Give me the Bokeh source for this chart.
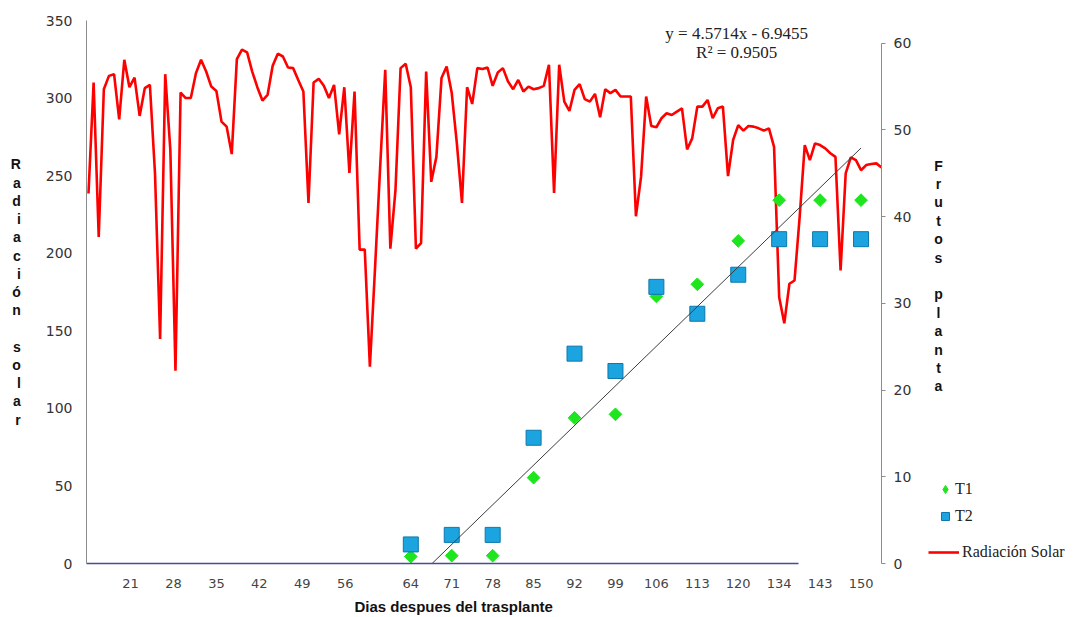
import numpy as np
from bokeh.plotting import figure
from bokeh.layouts import row
from bokeh.models import (Range1d, LinearAxis, FixedTicker, Legend, LegendItem,
                          Label, Title, ColumnDataSource)
from bokeh.embed import file_html
from bokeh.resources import INLINE

# Daily solar radiation over the crop cycle (left axis)
rad_solar = [238.5, 310, 210.4, 305.7, 314.3, 315.4, 286.3, 324.7, 307, 313.2,
             288.5, 306.4, 308.5, 251.4, 144.7, 315.4, 266.5, 124.2, 303.5, 300,
             300, 316, 324.7, 317.1, 307.4, 304.6, 284.8, 281.6, 263.9, 325.1,
             331.2, 329.4, 317.1, 307, 298.4, 302, 320.8, 328.6, 326.8, 319.7,
             319.3, 311.7, 304.2, 232.4, 310, 312.4, 307.9, 300, 308.5, 276.6,
             307, 251.8, 304.2, 202.3, 202.3, 126.8, 190, 255, 318.2, 202.9,
             240.6, 319.3, 322.1, 307, 202.9, 206.5, 317.1, 246, 262.1, 312.9,
             320.4, 303.2, 270.8, 232.4, 307, 296.2, 319.3, 318.7, 319.7, 307.9,
             316.5, 319.3, 310.7, 305.7, 311.7, 304.2, 307.4, 305.7, 306.4, 307.9,
             321.5, 238.9, 321.5, 297.7, 291.7, 305.3, 309, 299.3, 297.7, 302.7,
             287.6, 305.7, 303.2, 305.3, 301, 301, 301, 223.8, 249.2, 301,
             282, 281.2, 287, 290.2, 289.1, 291.3, 293.4, 266.9, 274, 294.5,
             294.5, 298.8, 287, 293.4, 294.5, 249.7, 273, 282.6, 279, 282,
             281.6, 280.5, 279, 280.5, 268.6, 171.6, 154.8, 180.3, 182.4, 223.3,
             269.7, 260, 270.8, 269.7, 267.6, 264.4, 262.1, 188.9, 251.4, 261.8,
             260, 253.5, 256.8, 257.5, 257.9, 255.3]

# Day labels before fruiting, and the sampling days with fruit counts
early_days = ["21", "28", "35", "42", "49", "56"]
sample_days = ["64", "71", "78", "85", "92", "99", "106", "113", "120", "134", "143", "150"]

# Fruits per plant (right axis)
frutos_t1 = [0.8, 0.9, 0.9, 9.9, 16.8, 17.2, 30.8, 32.2, 37.2, 41.9, 41.9, 41.9]
frutos_t2 = [2.2, 3.3, 3.3, 14.5, 24.2, 22.2, 31.9, 28.8, 33.3, 37.4, 37.4, 37.4]

# Linear trend fitted on T1 against the sample number
trend_slope = 4.5714
trend_intercept = -6.9455
trend_r2 = 0.9505

# styles
RED = "#ff0000"
GREEN = "#1ee61e"
BLUE_FILL, BLUE_LINE = "#1ba4df", "#0c78ad"
TICK_FONT = "DejaVu Sans"
SERIF = "Liberation Serif"
FRAME_H = 543

# ---- slots along the daily x axis ----
n_days = len(rad_solar)
day_x = np.arange(n_days)
early_slots = [round(8.2 + 8.4 * i, 1) for i in range(len(early_days))]
sample_slots = [63 + 8 * j for j in range(len(sample_days))]

p = figure(frame_width=795, frame_height=FRAME_H,
           x_range=Range1d(-0.39, n_days - 1), y_range=Range1d(0, 350),
           x_axis_type=None, y_axis_type=None,
           min_border_left=86, min_border_right=32, min_border_top=20, min_border_bottom=54,
           output_backend="svg", toolbar_location=None)
p.outline_line_color = None
p.background_fill_color = "white"
p.border_fill_color = "white"
p.extra_y_ranges = {"frutos": Range1d(0, 60 * FRAME_H / 520.3)}

# left axis: solar radiation
left = LinearAxis(ticker=FixedTicker(ticks=list(range(0, 351, 50))))
left.axis_line_color = "#8c8c8c"
left.major_tick_out = 0
left.major_tick_in = 0
left.minor_tick_out = 0
left.minor_tick_in = 0
left.major_label_standoff = 14
left.major_label_text_font = TICK_FONT
left.major_label_text_font_size = "14px"
left.major_label_text_color = "#333333"
left.axis_label = "\n".join(list("Radiación")) + "\n\n" + "\n".join(list("solar"))
left.axis_label_orientation = "horizontal"
left.axis_label_text_font = "Liberation Sans"
left.axis_label_text_font_style = "bold"
left.axis_label_text_font_size = "14px"
left.axis_label_text_line_height = 1.14
left.axis_label_text_color = "#111111"
left.axis_label_standoff = 22
p.add_layout(left, "left")

# right axis: fruits per plant (its title sits in the side panel)
right = LinearAxis(y_range_name="frutos", ticker=FixedTicker(ticks=list(range(0, 61, 10))),
                   bounds=(0, 60))
right.axis_line_color = "#8c8c8c"
right.major_tick_line_color = "#8c8c8c"
right.major_tick_out = 4
right.major_tick_in = 0
right.minor_tick_out = 0
right.minor_tick_in = 0
right.major_label_standoff = 8
right.major_label_text_font = TICK_FONT
right.major_label_text_font_size = "14px"
right.major_label_text_color = "#333333"
p.add_layout(right, "right")

# baseline of the category axis
base = LinearAxis(ticker=FixedTicker(ticks=[]), bounds=(-1.95, 138.8))
base.axis_line_color = "#4a4a96"
base.axis_line_width = 1.3
base.major_tick_out = 0
base.major_tick_in = 0
base.minor_tick_out = 0
base.minor_tick_in = 0
base.major_label_standoff = 0
p.add_layout(base, "below")

# day labels
tick_pos = early_slots + sample_slots
tick_lab = early_days + sample_days
xax = LinearAxis(ticker=FixedTicker(ticks=tick_pos),
                 major_label_overrides={t: s for t, s in zip(tick_pos, tick_lab)})
xax.axis_line_color = None
xax.major_tick_out = 0
xax.major_tick_in = 0
xax.minor_tick_out = 0
xax.minor_tick_in = 0
xax.major_label_standoff = 15
xax.major_label_text_font = TICK_FONT
xax.major_label_text_font_size = "13px"
xax.major_label_text_color = "#444444"
p.add_layout(xax, "below")

p.add_layout(Title(text="Dias despues del trasplante", align="left", offset=268,
                   text_font="Liberation Sans", text_font_style="bold",
                   text_font_size="15px", text_color="#111111", standoff=10), "below")

# series
src_rad = ColumnDataSource(dict(x=day_x, y=rad_solar))
src_f = ColumnDataSource(dict(x=sample_slots, t1=frutos_t1, t2=frutos_t2))

rad_style = dict(line_color=RED, line_width=2.6)
t1_style = dict(marker="square", angle=np.pi / 4, size=9, fill_color=GREEN, line_color=GREEN)
t2_style = dict(marker="square", size=15, fill_color=BLUE_FILL, line_color=BLUE_LINE,
                line_width=1)

p.line("x", "y", source=src_rad, **rad_style)
p.scatter("x", "t1", source=src_f, y_range_name="frutos", **t1_style)
p.scatter("x", "t2", source=src_f, y_range_name="frutos", **t2_style)

# trend line, clipped at zero fruits
k_start = -trend_intercept / trend_slope
k = np.array([k_start, len(sample_days)])
p.line(63 + 8 * (k - 1), trend_slope * k + trend_intercept, y_range_name="frutos",
       line_color="#3c3c3c", line_width=1)

# equation
for txt, yv in [(f"y = {trend_slope}x - {abs(trend_intercept)}", 341.6),
                (f"R\u00b2 = {trend_r2}", 329.4)]:
    p.add_layout(Label(x=126.7, y=yv, text=txt, text_align="center", text_baseline="middle",
                       text_font=SERIF, text_font_size="17px", text_color="#222222"))

# ---- side panel: right-axis title and legend (frame shares the main frame's height) ----
side_w = 165
s = figure(width=side_w, height=617, x_range=Range1d(0, side_w), y_range=Range1d(0, FRAME_H),
           x_axis_type=None, y_axis_type=None, min_border=0,
           output_backend="svg", toolbar_location=None)
s.outline_line_color = None
s.background_fill_color = "white"
s.border_fill_color = "white"
s.xgrid.visible = False
s.ygrid.visible = False

s.add_layout(Label(x=24, y=286.5,
                   text="\n".join(list("Frutos")) + "\n\n" + "\n".join(list("planta")),
                   text_align="center", text_baseline="middle", text_font="Liberation Sans",
                   text_font_style="bold", text_font_size="14px", text_line_height=1.15,
                   text_color="#111111"))

# legend keys: hidden copies of the series, so only their legend glyphs are drawn here
k_t1 = s.scatter("x", "t1", source=src_f, visible=False, marker="diamond",
                 fill_color=GREEN, line_color=GREEN)
k_t2 = s.scatter("x", "t2", source=src_f, visible=False, **t2_style)
k_rad = s.line("x", "y", source=src_rad, visible=False, **rad_style)

common = dict(padding=0, margin=0, border_line_color=None, background_fill_alpha=0,
              inactive_fill_alpha=0, label_text_font=SERIF, label_text_font_size="16px",
              label_text_color="#222222")
leg1 = Legend(items=[LegendItem(label="T1", renderers=[k_t1]),
                     LegendItem(label="T2", renderers=[k_t2])],
              location=(21, 35), glyph_width=20, glyph_height=20, label_height=20,
              label_standoff=0, spacing=7, **common)
leg2 = Legend(items=[LegendItem(label="Radiación Solar", renderers=[k_rad])],
              location=(14, 0), glyph_width=31, glyph_height=18, label_height=18,
              label_standoff=3, **common)
s.add_layout(leg1)
s.add_layout(leg2)

open("out.html", "w").write(file_html(row(p, s), INLINE))
